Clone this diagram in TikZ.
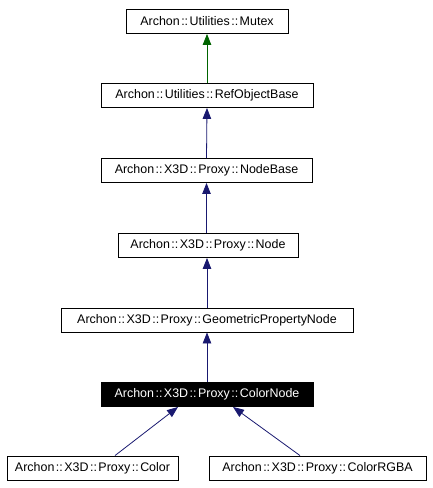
\documentclass[tikz,border=0pt]{standalone}
\usepackage{fontspec}
\setmainfont{Liberation Sans}
\usetikzlibrary{arrows.meta}
\definecolor{edgeblue}{HTML}{191970}
\definecolor{edgegreen}{HTML}{006400}
\newcommand{\dcol}{\kern1.5bp::\kern1.5bp}
\begin{document}
\begin{tikzpicture}[x=1bp,y=-1bp,
  cls/.style={draw=black, line width=0.9bp, minimum height=24bp, inner sep=0pt, font=\fontsize{12.5}{14}\selectfont},
  hl/.style={cls, fill=black, text=white},
  inh/.style={draw=edgeblue, line width=0.8bp, -{Triangle[length=11bp,width=8.5bp]}},
  inhg/.style={inh, draw=edgegreen}]
\useasboundingbox (0,0) rectangle (432,488);
\node[cls, minimum width=162bp] (mutex) at (207,21.5) {Archon\dcol Utilities\dcol Mutex};
\node[cls, minimum width=212bp] (rob) at (207,95.5) {Archon\dcol Utilities\dcol RefObjectBase};
\node[cls, minimum width=211bp] (nb) at (206.5,170.5) {Archon\dcol X3D\dcol Proxy\dcol NodeBase};
\node[cls, minimum width=180bp] (node) at (208,245.5) {Archon\dcol X3D\dcol Proxy\dcol Node};
\node[cls, minimum width=292bp] (gpn) at (207,320) {Archon\dcol X3D\dcol Proxy\dcol GeometricPropertyNode};
\node[hl, minimum width=212bp] (cn) at (207,394.5) {Archon\dcol X3D\dcol Proxy\dcol ColorNode};
\node[cls, minimum width=171bp] (color) at (92.5,468) {Archon\dcol X3D\dcol Proxy\dcol Color};
\node[cls, minimum width=217bp] (rgba) at (317.5,468) {Archon\dcol X3D\dcol Proxy\dcol ColorRGBA};
\draw[inhg] (rob.north) -- (mutex.south);
\draw[inh] (nb.north) -- (rob.south);
\draw[inh] (node.north -| nb.south) -- (nb.south);
\draw[inh] (gpn.north) -- (gpn.north |- node.south);
\draw[inh] (cn.north) -- (gpn.south);
\draw[inh] ([xshift=22.5bp]color.north) -- ([xshift=-29bp]cn.south);
\draw[inh] ([xshift=-17.5bp]rgba.north) -- ([xshift=26bp]cn.south);
\end{tikzpicture}
\end{document}
